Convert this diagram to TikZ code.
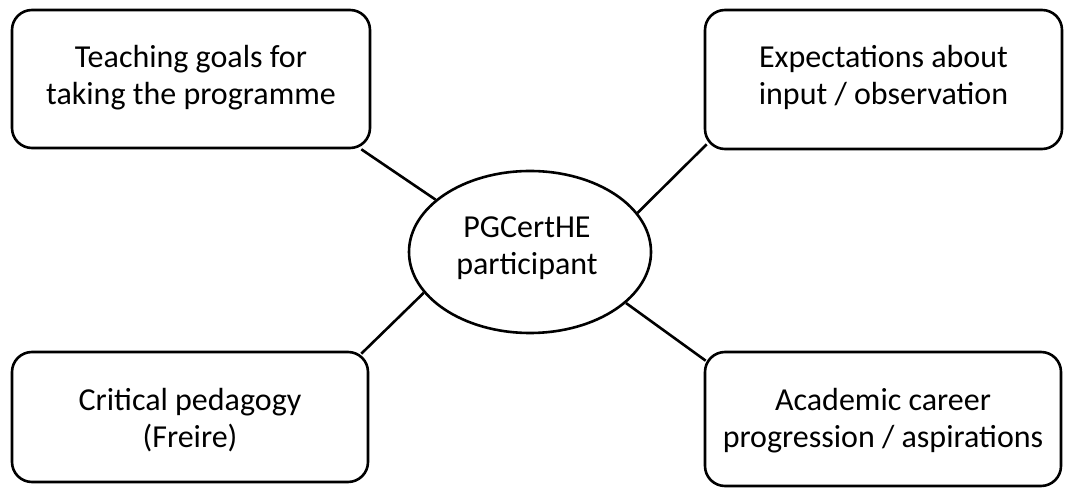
\documentclass[tikz,border=0pt]{standalone}
\usepackage{fontspec}
\setmainfont{Carlito}
\usetikzlibrary{shapes.geometric}

\tikzset{
  topicbox/.style={draw, line width=2.6pt, rounded corners=20pt, minimum width=#1, inner sep=0pt},
  hub/.style={draw, ellipse, line width=2.6pt, inner sep=0pt, minimum width=242pt, minimum height=162pt},
  boxtext/.style={anchor=base, align=center, inner sep=0pt,
    font=\fontsize{32}{37}\selectfont},
  link/.style={line width=2.6pt}
}

\begin{document}
\begin{tikzpicture}[x=1pt, y=1pt]
  \useasboundingbox (0,0) rectangle (1082,490);

  % four topic boxes round the centre
  \node[topicbox=358pt, minimum height=138pt] (tl) at (191,411) {};
  \node[topicbox=357pt, minimum height=139pt] (tr) at (883.5,410.5) {};
  \node[topicbox=356pt, minimum height=130pt] (bl) at (190,73) {};
  \node[topicbox=356pt, minimum height=134pt] (br) at (883,71) {};

  % their texts, set in the upper part of each box (base = last line)
  \node[boxtext] (tltext) at (191,385) {Teaching goals for\\taking the programme};
  \node[boxtext] (trtext) at (883.5,385) {Expectations about\\input / observation};
  \node[boxtext] (bltext) at (190,42) {Critical pedagogy\\(Freire)};
  \node[boxtext] (brtext) at (883,42) {Academic career\\progression / aspirations};

  % central participant
  \node[hub] (hub) at (530,238) {};
  \node[boxtext] (hubtext) at (527,215) {PGCertHE\\participant};

  % connectors from the hub to each box
  \draw[link] ([xshift=-10pt]tl.south east) -- (hub.151);
  \draw[link] ([shift={(3pt,6pt)}]tr.south west) -- (hub.20);
  \draw[link] ([shift={(-8pt,-3pt)}]bl.north east) -- (hub.201);
  \draw[link] ([shift={(2pt,-10pt)}]br.north west) -- (hub.332);
\end{tikzpicture}
\end{document}
